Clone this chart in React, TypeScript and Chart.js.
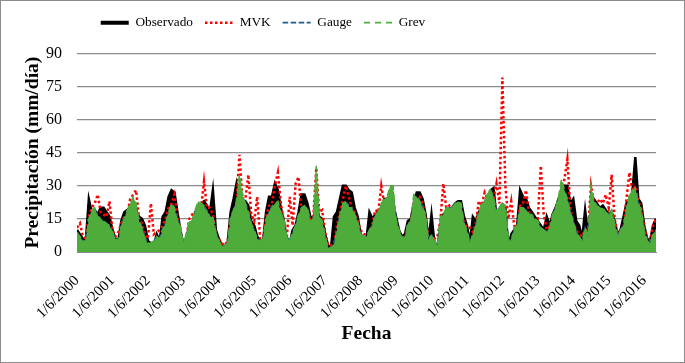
import React, { useEffect, useRef } from 'react';
import { Chart, registerables } from 'chart.js';

Chart.register(...registerables);

// Tick labels (one per year, at 1 June)
const tickLabels = [
  '1/6/2000', '1/6/2001', '1/6/2002', '1/6/2003', '1/6/2004', '1/6/2005',
  '1/6/2006', '1/6/2007', '1/6/2008', '1/6/2009', '1/6/2010', '1/6/2011',
  '1/6/2012', '1/6/2013', '1/6/2014', '1/6/2015', '1/6/2016',
];

// Monthly samples from Jun 2000 (index 0) to mid 2016 (index 196), mm/día
const observado = [
  10, 8, 6, 5, 24, 18, 19, 17, 20, 20, 18, 16,
  10, 6, 5, 14, 18, 19, 20, 21, 19, 16, 15, 12,
  5, 4, 3, 8, 5, 16, 18, 25, 28, 27, 18, 10,
  3, 6, 12, 13, 18, 20, 22, 23, 21, 18, 28, 10,
  6, 3, 2, 4, 18, 24, 31, 24, 22, 23, 21, 14,
  12, 7, 5, 5, 18, 25, 25, 31, 28, 20, 14, 6,
  4, 10, 12, 18, 26, 26, 22, 16, 15, 20, 16, 15,
  8, 3, 2, 16, 18, 24, 30, 30, 28, 27, 20, 16,
  8, 6, 6, 18, 15, 17, 18, 20, 24, 24, 22, 22,
  16, 10, 7, 8, 14, 15, 22, 27, 27, 24, 17, 5,
  17, 4, 2, 12, 17, 18, 19, 20, 22, 23, 23, 16,
  12, 4, 16, 14, 18, 20, 22, 25, 28, 29, 16, 16,
  20, 20, 2, 8, 10, 12, 28, 25, 24, 20, 18, 16,
  14, 12, 10, 16, 12, 17, 20, 24, 26, 30, 30, 22,
  24, 14, 12, 6, 19, 8, 18, 24, 22, 20, 21, 19,
  17, 18, 14, 8, 10, 16, 22, 24, 27, 43, 24, 22,
  12, 6, 5, 12, 15,
];

const mvk = [
  11, 13, 7, 6, 16, 20, 22, 26, 18, 17, 16, 23,
  10, 7, 9, 13, 16, 17, 24, 26, 28, 15, 13, 8,
  6, 22, 8, 9, 10, 12, 15, 20, 22, 26, 16, 9,
  4, 6, 15, 17, 16, 18, 20, 32, 20, 20, 17, 8,
  6, 4, 3, 5, 15, 18, 22, 44, 24, 24, 35, 17,
  14, 25, 6, 5, 16, 21, 22, 30, 36, 22, 14, 6,
  25, 12, 31, 34, 18, 20, 18, 15, 16, 38, 18, 19,
  9, 3, 3, 4, 12, 18, 24, 30, 25, 20, 18, 14,
  10, 8, 8, 9, 13, 19, 18, 30, 22, 23, 22, 20,
  13, 9, 6, 7, 12, 14, 22, 24, 25, 22, 15, 6,
  7, 6, 7, 14, 31, 20, 21, 19, 20, 21, 20, 14,
  11, 11, 9, 13, 23, 21, 27, 24, 26, 24, 31, 22,
  79, 30, 15, 23, 12, 11, 21, 22, 28, 18, 17, 14,
  15, 39, 17, 10, 12, 16, 19, 24, 28, 33, 42, 20,
  13, 10, 8, 7, 10, 10, 30, 22, 22, 24, 22, 26,
  20, 35, 15, 8, 9, 11, 24, 36, 28, 30, 23, 20,
  11, 6, 5, 12, 15,
];

const gauge = [
  8, 7, 5, 5, 14, 18, 19, 17, 15, 14, 13, 11,
  9, 6, 5, 12, 16, 18, 21, 23, 21, 14, 11, 7,
  4, 4, 5, 7, 6, 11, 13, 17, 21, 20, 15, 11,
  4, 8, 13, 14, 18, 22, 22, 21, 19, 16, 15, 9,
  5, 3, 3, 4, 15, 19, 23, 30, 25, 22, 19, 13,
  10, 6, 5, 6, 15, 18, 21, 22, 22, 18, 14, 7,
  5, 9, 12, 16, 20, 21, 19, 15, 15, 33, 16, 14,
  7, 2, 2, 3, 10, 17, 21, 23, 21, 20, 17, 13,
  8, 7, 7, 10, 12, 17, 18, 21, 23, 25, 28, 27,
  15, 10, 7, 6, 13, 14, 24, 25, 23, 21, 16, 5,
  8, 5, 3, 15, 17, 19, 20, 20, 22, 22, 22, 13,
  10, 4, 8, 12, 18, 21, 23, 26, 27, 25, 18, 20,
  22, 21, 6, 5, 11, 12, 20, 20, 19, 17, 16, 15,
  14, 11, 10, 9, 11, 17, 20, 24, 30, 27, 24, 18,
  14, 9, 7, 5, 11, 7, 27, 23, 21, 20, 19, 18,
  17, 19, 13, 7, 10, 12, 20, 25, 27, 28, 22, 19,
  10, 5, 4, 8, 10,
];

const grev = [
  9, 7, 5, 5, 15, 19, 20, 16, 15, 14, 13, 12,
  9, 6, 5, 12, 15, 19, 22, 25, 22, 14, 11, 6,
  4, 4, 5, 7, 6, 10, 13, 18, 22, 20, 14, 12,
  4, 8, 14, 14, 19, 23, 22, 21, 18, 16, 16, 9,
  5, 3, 3, 4, 16, 19, 23, 35, 26, 22, 18, 13,
  10, 6, 5, 6, 15, 18, 20, 22, 23, 18, 15, 7,
  5, 9, 12, 17, 20, 21, 20, 14, 15, 39, 16, 14,
  7, 2, 2, 3, 10, 17, 22, 23, 20, 20, 17, 14,
  8, 7, 7, 10, 12, 17, 18, 22, 24, 25, 30, 30,
  15, 10, 7, 6, 13, 14, 26, 25, 23, 20, 17, 5,
  8, 5, 3, 16, 17, 20, 20, 20, 22, 23, 22, 13,
  10, 4, 8, 12, 18, 22, 23, 27, 28, 25, 18, 21,
  22, 21, 6, 5, 11, 12, 20, 20, 19, 17, 17, 15,
  14, 11, 10, 9, 11, 17, 20, 25, 33, 28, 24, 18,
  14, 9, 7, 5, 11, 7, 30, 23, 21, 20, 20, 18,
  17, 19, 13, 7, 10, 12, 20, 26, 28, 29, 22, 19,
  10, 5, 4, 8, 10,
];

const FONT = "'Liberation Serif', 'Times New Roman', 'DejaVu Serif', serif";

export default function App() {
  const ref = useRef<HTMLCanvasElement | null>(null);

  useEffect(() => {
    document.body.style.margin = '0';
    if (!ref.current) return;
    const toXY = (arr: number[]) => arr.map((y, i) => ({ x: i, y }));

    const legendPos = {
      id: 'legendPos',
      afterLayout(chart: any) {
        const lg = chart.legend;
        if (!lg) return;
        const dx = 262 - (lg.left + lg.right) / 2;
        const dy = 3 - lg.top;
        lg.left += dx;
        lg.right += dx;
        lg.top += dy;
        lg.bottom += dy;
      },
    };

    const legendWidths = [4, 2.5, 1.6, 1.6];
    const legendDash = [[], [2.5, 2.5], [5.5, 2.5], [6, 5]];

    const chart = new Chart(ref.current, {
      type: 'line',
      data: {
        datasets: [
          {
            label: 'Observado',
            data: toXY(observado),
            borderColor: '#000000',
            backgroundColor: '#000000',
            borderWidth: 2.5,
            fill: 'origin',
            order: 4,
          },
          {
            label: 'MVK',
            data: toXY(mvk),
            borderColor: '#FF0000',
            backgroundColor: '#FF0000',
            borderWidth: 2.5,
            borderDash: [2.5, 2.5],
            fill: false,
            order: 3,
          },
          {
            label: 'Gauge',
            data: toXY(gauge),
            borderColor: '#1F5B86',
            backgroundColor: '#1F5B86',
            borderWidth: 1.5,
            borderDash: [5, 2.5],
            fill: false,
            order: 2,
          },
          {
            label: 'Grev',
            data: toXY(grev),
            borderColor: '#4DAC3A',
            backgroundColor: '#4DAC3A',
            borderWidth: 1.5,
            borderDash: [7, 4],
            fill: 'origin',
            order: 1,
          },
        ],
      },
      options: {
        responsive: false,
        animation: false,
        devicePixelRatio: 1,
        events: [],
        elements: { point: { radius: 0 }, line: { tension: 0 } },
        layout: { padding: { top: 17, right: 28, bottom: 0, left: 0 } },
        plugins: {
          tooltip: { enabled: false },
          legend: {
            position: 'top',
            labels: {
              usePointStyle: true,
              pointStyle: 'line',
              pointStyleWidth: 28,
              padding: 12,
              color: '#000',
              font: { family: FONT, size: 13.3 },
              sort: (a: any, b: any) => a.datasetIndex - b.datasetIndex,
              generateLabels: (c: any) =>
                c.data.datasets.map((ds: any, i: number) => ({
                  text: ds.label,
                  datasetIndex: i,
                  strokeStyle: ds.borderColor,
                  fillStyle: ds.borderColor,
                  lineWidth: legendWidths[i],
                  lineDash: legendDash[i],
                  lineCap: 'butt',
                  pointStyle: 'line',
                  hidden: false,
                  fontColor: '#000',
                })),
            },
          },
        },
        scales: {
          x: {
            type: 'linear',
            min: 0,
            max: 196,
            afterBuildTicks: (s: any) => {
              s.ticks = tickLabels.map((_, i) => ({ value: i * 12 }));
            },
            afterFit: (s: any) => {
              s.height = 110;
            },
            ticks: {
              autoSkip: false,
              minRotation: 45,
              maxRotation: 45,
              padding: 12,
              color: '#000',
              font: { family: FONT, size: 15 },
              callback: (_v: any, i: number) => tickLabels[i] ?? '',
            },
            grid: { display: false },
            border: { display: true, color: '#8c8c8c' },
            title: {
              display: true,
              text: 'Fecha',
              color: '#000',
              font: { family: FONT, size: 19.5, weight: 'bold' },
              padding: { top: 0, bottom: 16 },
            },
          },
          y: {
            min: 0,
            max: 90,
            afterFit: (s: any) => {
              s.width = 76;
            },
            ticks: {
              stepSize: 15,
              padding: 15,
              color: '#000',
              font: { family: FONT, size: 16 },
            },
            grid: { color: '#8c8c8c', lineWidth: 1.3, drawTicks: false },
            border: { display: false },
            title: {
              display: true,
              text: 'Precipitación (mm/día)',
              color: '#000',
              font: { family: FONT, size: 19.5, weight: 'bold' },
              padding: { top: 20, bottom: 0 },
            },
          },
        },
      },
      plugins: [legendPos],
    } as any);

    return () => chart.destroy();
  }, []);

  return (
    <div style={{ width: 683, height: 361, border: '1px solid #8c8c8c', background: '#fff' }}>
      <canvas ref={ref} width={683} height={361} style={{ display: 'block' }} />
    </div>
  );
}
